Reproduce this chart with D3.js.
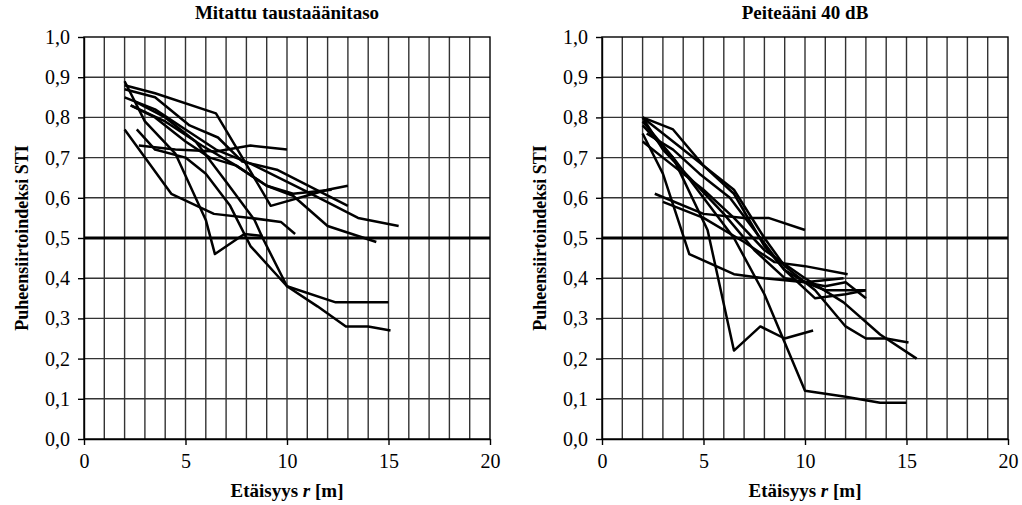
<!DOCTYPE html>
<html>
<head>
<meta charset="utf-8">
<script src="https://cdn.jsdelivr.net/npm/d3@7"></script>
<style>
  body { margin: 0; background: #fff; }
  svg { display: block; font-family: "Liberation Serif", "Times New Roman", serif; }
</style>
</head>
<body>
<svg id="chart" width="1022" height="505"></svg>
<script>
// otsikot ja akselit
const panelTitles = ["Mitattu taustaäänitaso", "Peiteääni 40 dB"]
const xTicks = [0, 5, 10, 15, 20]
const yTicks = [0, 0.1, 0.2, 0.3, 0.4, 0.5, 0.6, 0.7, 0.8, 0.9, 1.0]
const limitValue = 0.5

// mittaukset [r, STI], luettu kuvasta
const mitattuLines = [
  [[2,0.88],[3.5,0.86],[6.5,0.81],[7.8,0.70],[9.2,0.58],[12,0.62],[13,0.63]],
  [[2.7,0.73],[4.5,0.72],[6.5,0.715],[8.2,0.73],[10,0.72]],
  [[2,0.77],[4.3,0.61],[6.4,0.56],[8.2,0.55],[9.7,0.54],[10.4,0.51]],
  [[2,0.87],[3.5,0.85],[5.2,0.78],[6.6,0.75],[7.8,0.69],[9.5,0.67],[13,0.58]],
  [[2,0.85],[3.5,0.82],[5,0.77],[6.5,0.72],[8.2,0.685],[11,0.615],[13.5,0.55],[15.5,0.53]],
  [[2.3,0.83],[4,0.79],[5.8,0.73],[7.5,0.68],[9,0.63],[10.3,0.605],[12,0.53],[14.4,0.49]],
  [[2,0.89],[3,0.79],[4.5,0.71],[6,0.545],[6.45,0.46],[7.9,0.51],[8.8,0.505]],
  [[2.6,0.77],[3.5,0.72],[5,0.70],[6,0.66],[7.2,0.58],[8.2,0.48],[10,0.38],[11.5,0.33],[12.9,0.28],[14,0.28],[15.1,0.27]],
  [[2.5,0.84],[4,0.80],[5.5,0.74],[7,0.64],[8.4,0.545],[8.8,0.50],[10,0.38],[12.4,0.34],[15,0.34]],
  [[2.3,0.83],[3.5,0.80],[5,0.74],[6.2,0.70],[7.5,0.68],[9,0.63],[10.3,0.61],[12.2,0.62]]
]

const peiteLines = [
  [[2,0.80],[3.5,0.77],[5,0.68],[6.5,0.61],[8,0.48],[9,0.42],[10.5,0.35],[12,0.36],[13,0.37]],
  [[2.6,0.61],[5,0.56],[7,0.55],[8.2,0.55],[10,0.52]],
  [[3,0.59],[5,0.55],[7,0.49],[8.5,0.44],[10,0.43],[12.1,0.41]],
  [[2,0.76],[3,0.66],[4.3,0.46],[6.5,0.41],[8,0.40],[10,0.39],[11.9,0.40]],
  [[2,0.79],[3.5,0.70],[5.2,0.52],[6.5,0.22],[7.8,0.28],[9,0.25],[10.4,0.27]],
  [[2,0.78],[3.5,0.70],[5,0.60],[6.5,0.50],[8,0.36],[10,0.12],[12,0.105],[13.7,0.09],[15,0.09]],
  [[2,0.80],[4,0.72],[5.5,0.66],[6.5,0.62],[8,0.50],[9,0.43],[10.5,0.37],[12,0.28],[13,0.25],[14,0.25],[15.1,0.24]],
  [[2,0.74],[3.5,0.68],[5,0.62],[6.5,0.55],[8,0.47],[10,0.40],[11.9,0.34],[13.7,0.26],[15.5,0.20]],
  [[2,0.80],[3,0.72],[4.5,0.64],[6,0.56],[7.5,0.47],[9,0.40],[11,0.38],[12,0.39],[13,0.35]],
  [[2.2,0.76],[3.5,0.72],[4.8,0.66],[6.3,0.60],[7.5,0.52],[9,0.42],[10,0.39],[11,0.37],[13,0.37]]
]

function piirra() {
  var svg = d3.select("#chart")
  var fmt = function(d){ return d3.format(".1f")(d).replace(".", ",") }

  var panels = [
    { title: panelTitles[0], lines: mitattuLines, left: 84, labelX: 22 },
    { title: panelTitles[1], lines: peiteLines, left: 602, labelX: 540 }
  ]
  var plotW = 406, plotTop = 37, plotBottom = 439

  panels.forEach(function(p){
    var x = d3.scaleLinear().domain([0, 20]).range([p.left, p.left + plotW])
    var y = d3.scaleLinear().domain([0, 1]).range([plotBottom, plotTop])
    var g = svg.append("g")

    // ruudukko
    g.selectAll(".vgrid").data(d3.range(1, 20)).enter().append("line")
      .attr("x1", function(d){ return x(d) }).attr("x2", function(d){ return x(d) })
      .attr("y1", plotTop).attr("y2", plotBottom)
      .attr("stroke", "#333").attr("stroke-width", 1.4)
    g.selectAll(".hgrid").data(yTicks.slice(1, -1)).enter().append("line")
      .attr("x1", p.left).attr("x2", p.left + plotW)
      .attr("y1", function(d){ return y(d) }).attr("y2", function(d){ return y(d) })
      .attr("stroke", "#333").attr("stroke-width", 1.4)

    // raja 0,5
    g.append("line")
      .attr("x1", p.left).attr("x2", p.left + plotW)
      .attr("y1", y(limitValue)).attr("y2", y(limitValue))
      .attr("stroke", "#000").attr("stroke-width", 3)

    // kehys
    g.append("rect")
      .attr("x", p.left).attr("y", plotTop).attr("width", plotW).attr("height", plotBottom - plotTop)
      .attr("fill", "none").attr("stroke", "#000").attr("stroke-width", 1.4)

    var line = d3.line().x(function(d){ return x(d[0]) }).y(function(d){ return y(d[1]) })
    g.selectAll(".data").data(p.lines).enter().append("path")
      .attr("d", line)
      .attr("fill", "none").attr("stroke", "#000").attr("stroke-width", 2.5)
      .attr("stroke-linejoin", "round")

    var xAxis = g.append("g").attr("transform", "translate(0," + plotBottom + ")")
      .call(d3.axisBottom(x).tickValues(xTicks).tickSize(6).tickSizeOuter(0).tickPadding(9))
    var yAxis = g.append("g").attr("transform", "translate(" + p.left + ",0)")
      .call(d3.axisLeft(y).tickValues(yTicks).tickFormat(fmt).tickSize(6).tickSizeOuter(0).tickPadding(8))
    ;[xAxis, yAxis].forEach(function(a){
      a.select(".domain").attr("stroke", "#000").attr("stroke-width", 1.4)
      a.selectAll(".tick line").attr("stroke", "#000").attr("stroke-width", 1.4)
      a.selectAll(".tick text").attr("font-family", "Liberation Serif").attr("font-size", 20).attr("fill", "#000")
    })

    g.append("text")
      .attr("x", p.left + plotW / 2).attr("y", 19)
      .attr("text-anchor", "middle").attr("font-weight", "bold").attr("font-size", 19)
      .text(p.title)

    var xl = g.append("text")
      .attr("x", p.left + plotW / 2).attr("y", 497)
      .attr("text-anchor", "middle").attr("font-weight", "bold").attr("font-size", 19)
    xl.append("tspan").text("Etäisyys ")
    xl.append("tspan").attr("font-style", "italic").text("r")
    xl.append("tspan").text(" [m]")

    g.append("text")
      .attr("transform", "translate(" + p.labelX + "," + ((plotTop + plotBottom) / 2) + ") rotate(-90)")
      .attr("text-anchor", "middle").attr("dy", "0.35em")
      .attr("font-weight", "bold").attr("font-size", 18)
      .text("Puheensiirtoindeksi STI")
  })
}
piirra()
</script>
</body>
</html>
